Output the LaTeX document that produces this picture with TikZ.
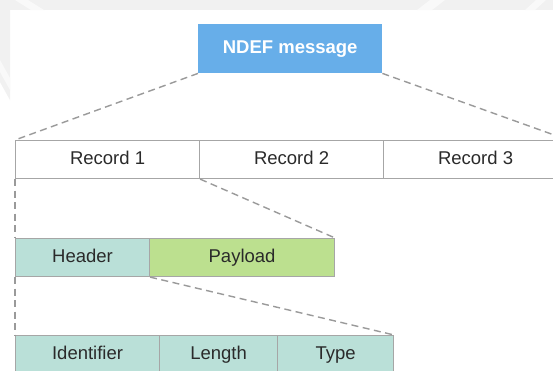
\documentclass[tikz,border=0pt]{standalone}
\usepackage{fontspec}
\setmainfont{Liberation Sans}
\definecolor{ndefblue}{HTML}{67AEE9}
\definecolor{fieldteal}{HTML}{BAE0D8}
\definecolor{fieldgreen}{HTML}{BCE08F}
\definecolor{edgegray}{HTML}{A6A6A6}
\definecolor{dashgray}{HTML}{9A9A9A}
\definecolor{inkgray}{HTML}{2A2A2A}
\definecolor{bandgray}{HTML}{F1F1F1}
\tikzset{
  field/.style={draw=edgegray, line width=1.1pt, inner sep=0pt, anchor=north west,
    minimum height=38pt, text=inkgray, text height=13.5pt, text depth=4pt,
    font=\fontsize{18.5}{20}\selectfont},
  plainfield/.style={field, fill=white},
  tealfield/.style={field, fill=fieldteal},
  greenfield/.style={field, fill=fieldgreen},
  titlebox/.style={fill=ndefblue, inner sep=0pt, anchor=north west,
    minimum width=184pt, minimum height=49pt, text=white,
    text height=13.5pt, text depth=4pt,
    font=\fontsize{18.5}{20}\selectfont\bfseries},
  guide/.style={draw=dashgray, line width=1.4pt, dash pattern=on 7pt off 4.5pt}
}
\begin{document}
\begin{tikzpicture}[x=1pt, y=-1pt]
\useasboundingbox (0,0) rectangle (553,370);
\begin{scope}
\clip (0,0) rectangle (553,370);
% page background with the faint grey frame along the top and left
\fill[white] (0,0) rectangle (553,370);
\fill[bandgray] (0,0) rectangle (553,10);
\fill[bandgray] (0,10) -- (10,10) -- (10,100) -- (0,82) -- cycle;
\fill[white!60!bandgray] (15,0) -- (28,0) -- (44,10) -- (31,10) -- cycle;
\fill[white!60!bandgray] (0,60) -- (10,78) -- (10,90) -- (0,72) -- cycle;
\fill[white!60!bandgray] (430,0) -- (445,0) -- (432,10) -- (417,10) -- cycle;
\fill[white!60!bandgray] (536,0) -- (546,0) -- (535,10) -- (525,10) -- cycle;

% message
\node[titlebox] (ndef) at (198,24) {NDEF message};

% records
\node[plainfield, minimum width=184pt] (rec1) at (15,140) {Record 1};
\node[plainfield, minimum width=184pt] (rec2) at (199,140) {Record 2};
\node[plainfield, minimum width=184pt] (rec3) at (383,140) {Record 3};

% record layout
\node[tealfield, minimum width=134pt] (head) at (15,238) {Header};
\node[greenfield, minimum width=185pt] (pay) at (149,238) {Payload};

% header layout
\node[tealfield, minimum width=144pt] (ident) at (15,335) {Identifier};
\node[tealfield, minimum width=118pt] (len) at (159,335) {Length};
\node[tealfield, minimum width=116pt] (type) at (277,335) {Type};

% expansion guides
\draw[guide] (ndef.south west) -- (rec1.north west);
\draw[guide] (ndef.south east) -- (rec3.north east);
\draw[guide] (rec1.south west) -- (head.north west);
\draw[guide] (rec1.south east) -- (pay.north east);
\draw[guide] (head.south west) -- (ident.north west);
\draw[guide] (head.south east) -- (type.north east);
\end{scope}
\end{tikzpicture}
\end{document}
